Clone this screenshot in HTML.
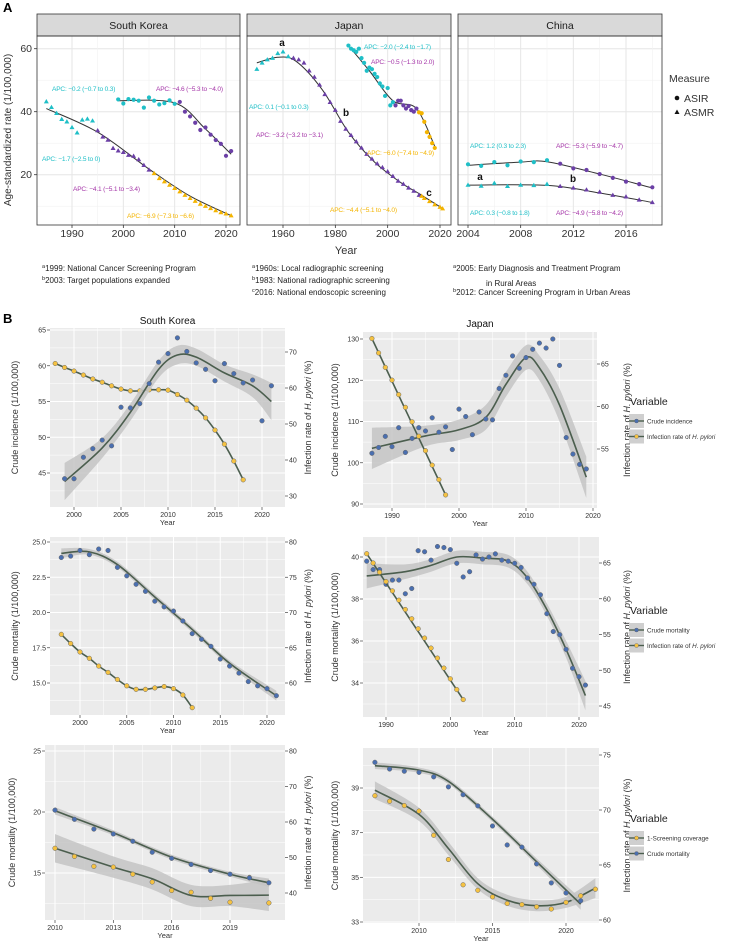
<!DOCTYPE html>
<html><head><meta charset="utf-8"><style>
html,body{margin:0;padding:0;background:#fff}
svg{display:block;font-family:"Liberation Sans",sans-serif}
</style></head><body>
<svg id="chart" width="732" height="944" viewBox="0 0 732 944" xmlns="http://www.w3.org/2000/svg"></svg>
<script>
// ===== Panel A data =====
const skAsmrYears=[1985,1986,1987,1988,1989,1990,1991,1992,1993,1994,1995,1996,1997,1998,1999,2000,2001,2002,2003,2004,2005,2006,2007,2008,2009,2010,2011,2012,2013,2014,2015,2016,2017,2018,2019,2020,2021];
const skAsmrVals=[43.2,41.4,39.5,37.6,36.8,35,33.3,37.4,37.7,37.1,34,32,31,28.4,27.6,27.1,26.2,25.9,24.8,23,21.5,20.4,18.8,17.8,16.7,15.7,14.6,13.5,12.5,11.6,10.7,10,9.3,8.6,8,7.6,7];
const skAsmrBreaks=[1994,2005];
const skAsmrFitX=[1985,1995,2005,2013,2021];
const skAsmrFitY=[41,33.5,21.8,13.2,7];
const skAsirYears=[1999,2000,2001,2002,2003,2004,2005,2006,2007,2008,2009,2010,2011,2012,2013,2014,2015,2016,2017,2018,2019,2020,2021];
const skAsirVals=[43.9,42.6,44,43.8,43.5,41.3,44.5,43.5,42.3,42.7,43.6,42.5,43.1,40,38.5,36.5,34.2,35,32.7,31,29.8,26,27.5];
const skAsirBreaks=[2010,2100];
const skAsirFitX=[1999,2010,2016,2021];
const skAsirFitY=[43.5,42.8,34.5,26.5];
const jpAsmrYears=[1950,1952,1954,1956,1958,1960,1962,1964,1966,1968,1970,1972,1974,1976,1978,1980,1982,1984,1986,1988,1990,1992,1994,1996,1998,2000,2002,2004,2006,2008,2010,2012,2013,2014,2016,2018,2020,2021];
const jpAsmrVals=[53.5,55.5,56.5,57,58.5,59,57.5,57,56.5,55.5,53,51,48.5,45.5,43,40.5,37,34.5,32.5,30.5,28.5,26.5,25,23.5,22.3,21,19.5,18,17,15.8,14.8,13.5,13.2,12.5,11.5,10.5,9.7,9.2];
const jpAsmrBreaks=[1963,2012];
const jpAsmrFitX=[1950,1958,1965,1975,1985,1995,2005,2012,2021];
const jpAsmrFitY=[55.5,57.3,56,47,33.5,24,17.5,14,9.3];
const jpAsirYears=[1985,1986,1987,1988,1989,1990,1991,1992,1993,1994,1995,1996,1997,1998,1999,2000,2001,2002,2003,2004,2005,2006,2007,2008,2009,2010,2011,2012,2013,2014,2015,2016,2017,2018];
const jpAsirVals=[61,60,59.5,59,60,57,55.5,53,54,53.5,52,51,49,48,45,47.5,42,43,42,43.5,43.5,42,41,41.8,40.5,40,41,39.8,39.5,36.8,33.5,32,30,28.5];
const jpAsirBreaks=[2002,2011];
const jpAsirFitX=[1985,1993,2002,2011,2018];
const jpAsirFitY=[61,53,43.5,41,29];
const cnAsirYears=[2004,2005,2006,2007,2008,2009,2010,2011,2012,2013,2014,2015,2016,2017,2018];
const cnAsirVals=[23.3,22.8,24,23,24.2,24,24.6,23.5,22,21.5,20.2,19,17.8,17,16];
const cnAsirBreaks=[2010,2100];
const cnAsirFitX=[2004,2008,2010,2014,2018];
const cnAsirFitY=[23,24,24.1,20.2,15.8];
const cnAsmrYears=[2004,2005,2006,2007,2008,2009,2010,2011,2012,2013,2014,2015,2016,2017,2018];
const cnAsmrVals=[16.7,16.4,17.3,16.3,16.7,16.6,17,16.3,15.8,15.2,14.5,13.5,13,12,11.2];
const cnAsmrBreaks=[2010,2100];
const cnAsmrFitX=[2004,2010,2014,2018];
const cnAsmrFitY=[16.7,16.6,14.2,11.2];
const aYTicks=[20,40,60];
const skXTicks=[1990,2000,2010,2020];
const jpXTicks=[1960,1980,2000,2020];
const cnXTicks=[2004,2008,2012,2016];

// ===== Panel B data =====
const b1skYears=[1999,2000,2001,2002,2003,2004,2005,2006,2007,2008,2009,2010,2011,2012,2013,2014,2015,2016,2017,2018,2019,2020,2021];
const b1skInc=[44.2,44.2,47.2,48.4,49.6,48.8,54.2,54.1,54.7,57.5,60.5,61.7,63.9,62,60.4,59.5,57.9,60.3,58.9,57.6,58,52.3,57.2];
const b1skIncFitX=[1999,2003,2006,2009,2011,2013,2016,2019,2021];
const b1skIncFitY=[43.8,48.5,53.5,59.5,61.5,61.2,59,57.2,55];
const b1skIncBand=[2.6,1.4,1.2,1.2,1.3,1.2,1.2,1.6,2.6];
const b1skHpYears=[1998,1999,2000,2001,2002,2003,2004,2005,2006,2007,2008,2009,2010,2011,2012,2013,2014,2015,2016,2017,2018];
const b1skHp=[66.8,65.7,64.7,63.6,62.5,61.6,60.6,59.7,59.2,59.2,59.5,59.5,59.4,58.2,56.6,54.4,51.7,48.3,44.4,39.7,34.5];

const b1jpYears=[1987,1988,1989,1990,1991,1992,1993,1994,1995,1996,1997,1998,1999,2000,2001,2002,2003,2004,2005,2006,2007,2008,2009,2010,2011,2012,2013,2014,2015,2016,2017,2018,2019];
const b1jpInc=[102.3,103.7,106.4,103.9,108.5,102.5,105.9,108.5,107.7,110.9,107.4,108.7,103.2,113,111.2,106.8,112.3,110.6,110.4,118,121.2,125.9,122.9,125.5,127.5,129,127.8,130,123.6,106.1,102.1,99.6,98.5];
const b1jpIncFitX=[1987,1995,2000,2004,2007,2010,2012,2015,2019];
const b1jpIncFitY=[103.5,106.5,108,111,119,125.5,123,114,96.5];
const b1jpIncBand=[5,2.5,2.5,3,3,3,3,4,5];
const b1jpHpYears=[1987,1988,1989,1990,1991,1992,1993,1994,1995,1996,1997,1998];
const b1jpHp=[68,66.3,64.6,63.1,61.4,59.9,58.2,56.5,54.8,53.1,51.4,49.6];

const b2skYears=[1998,1999,2000,2001,2002,2003,2004,2005,2006,2007,2008,2009,2010,2011,2012,2013,2014,2015,2016,2017,2018,2019,2020,2021];
const b2skMort=[23.9,24,24.4,24.1,24.5,24.4,23.2,22.6,22,21.5,20.8,20.4,20.1,19.4,18.5,18.1,17.6,16.7,16.2,15.7,15.1,14.8,14.6,14.1];
const b2skMortFitX=[1998,2001,2004,2008,2012,2016,2021];
const b2skMortFitY=[24.2,24.3,23.4,21.1,18.8,16.4,14.1];
const b2skMortBand=[0.35,0.2,0.2,0.2,0.2,0.2,0.35];
const b2skHpYears=[1998,1999,2000,2001,2002,2003,2004,2005,2006,2007,2008,2009,2010,2011,2012];
const b2skHp=[66.9,65.6,64.4,63.5,62.4,61.5,60.5,59.6,59.1,59.1,59.3,59.5,59.2,58.3,56.5];

const b2jpYears=[1987,1988,1989,1990,1991,1992,1993,1994,1995,1996,1997,1998,1999,2000,2001,2002,2003,2004,2005,2006,2007,2008,2009,2010,2011,2012,2013,2014,2015,2016,2017,2018,2019,2020,2021];
const b2jpMort=[39.8,39.4,39.4,38.7,38.9,38.9,38.25,38.5,40.3,40.25,39.85,40.5,40.45,40.35,39.7,39.05,39.3,40.1,39.9,40,40.15,39.85,39.8,39.7,39.5,39,38.7,38.2,37.3,36.45,36.3,35.6,34.7,34.3,33.9];
const b2jpMortFitX=[1987,1993,1997,2001,2005,2009,2012,2015,2018,2021];
const b2jpMortFitY=[39.1,39.3,39.6,40,39.95,39.8,39,37.5,35.6,33.4];
const b2jpMortBand=[0.6,0.35,0.3,0.3,0.3,0.3,0.3,0.3,0.4,0.7];
const b2jpHpYears=[1987,1988,1989,1990,1991,1992,1993,1994,1995,1996,1997,1998,1999,2000,2001,2002];
const b2jpHp=[66.3,65,63.7,62.4,61.1,59.8,58.5,57.2,55.8,54.5,53.1,51.7,50.3,48.8,47.3,45.9];

const b3skYears=[2010,2011,2012,2013,2014,2015,2016,2017,2018,2019,2020,2021];
const b3skMort=[20.15,19.4,18.6,18.2,17.6,16.7,16.2,15.7,15.2,14.9,14.6,14.2];
const b3skMortFitX=[2010,2013,2016,2019,2021];
const b3skMortFitY=[20.1,18.3,16.3,14.9,14.2];
const b3skMortBand=[0.3,0.2,0.2,0.2,0.35];
const b3skHp=[52.6,50.3,47.5,47.3,45.3,43.1,40.7,40.2,38.5,37.4,44.4,37.2];
const b3skHpFitX=[2010,2013,2015,2017,2019,2021];
const b3skHpFitY=[52.6,47.3,44,39.3,39.3,39.4];
const b3skHpBand=[4,3,3,3,3,4.5];

const b3jpYears=[2007,2008,2009,2010,2011,2012,2013,2014,2015,2016,2017,2018,2019,2020,2021];
const b3jpMort=[40.15,39.85,39.75,39.7,39.5,39.05,38.7,38.2,37.3,36.45,36.35,35.6,34.75,34.3,33.95];
const b3jpMortFitX=[2007,2010,2012,2015,2018,2021];
const b3jpMortFitY=[40,39.8,39.3,37.6,35.7,33.8];
const b3jpMortBand=[0.15,0.12,0.12,0.12,0.15,0.25];
const b3jpCovYears=[2007,2008,2009,2010,2011,2012,2013,2014,2015,2016,2017,2018,2019,2020,2021,2022];
const b3jpCov=[71.3,70.8,70.4,69.9,67.7,65.5,63.2,62.7,62.1,61.5,61.4,61.2,61,61.6,62.2,62.8];
const b3jpCovFitX=[2007,2010,2012,2014,2016,2018,2020,2022];
const b3jpCovFitY=[71.8,69.6,66.5,63.3,61.8,61.3,61.6,62.9];
const b3jpCovBand=[0.8,0.6,0.6,0.5,0.5,0.5,0.5,0.9];

// ===== helpers =====
const NS="http://www.w3.org/2000/svg";
const svg=document.getElementById('chart');
function mk(tag,attrs,parent){const e=document.createElementNS(NS,tag);for(const k in attrs)e.setAttribute(k,attrs[k]);(parent||svg).appendChild(e);return e;}
function lin(v1,p1,v2,p2){return v=>p1+(v-v1)*(p2-p1)/(v2-v1);}
function smoothPath(pts){if(pts.length<2)return'';let d='M'+pts[0][0]+','+pts[0][1];for(let i=0;i<pts.length-1;i++){const p0=pts[i-1]||pts[i],p1=pts[i],p2=pts[i+1],p3=pts[i+2]||p2;const c1=[p1[0]+(p2[0]-p0[0])/6,p1[1]+(p2[1]-p0[1])/6],c2=[p2[0]-(p3[0]-p1[0])/6,p2[1]-(p3[1]-p1[1])/6];d+=' C'+c1[0]+','+c1[1]+' '+c2[0]+','+c2[1]+' '+p2[0]+','+p2[1];}return d;}
function txt(x,y,s,size,attrs,parent){const t=mk('text',Object.assign({x:x,y:y,'font-size':size,fill:'#333'},attrs||{}),parent);t.textContent=s;return t;}

const CY='#1fbfc7',PU='#6b3fa6',YE='#f4b400',PUL='#a536a8';
const segCol=(yr,br)=>yr<=br[0]?CY:(yr<=br[1]?PU:YE);

// ===== Panel A =====
txt(3,12,'A',13,{'font-weight':'bold',fill:'#000'});
function aPanel(name,x0,x1,xs,xt,label){
  const g=mk('g',{});
  
  
  const ys=lin(60,48.7,20,174.7);
  const bg=mk('rect',{x:x0,y:36,width:x1-x0,height:189,fill:'#fff'},g);
  
  
  [10,30,50].forEach(v=>mk('line',{x1:x0,x2:x1,y1:ys(v),y2:ys(v),stroke:'#f2f2f2','stroke-width':0.6},g));
  aYTicks.forEach(v=>mk('line',{x1:x0,x2:x1,y1:ys(v),y2:ys(v),stroke:'#e6e6e6','stroke-width':1},g));
  for(let i=0;i<xt.length;i++){const m=i<xt.length-1?(xt[i]+xt[i+1])/2:xt[i]+(xt[1]-xt[0])/2;if(xs(m)<x1)mk('line',{x1:xs(m),x2:xs(m),y1:36,y2:225,stroke:'#f2f2f2','stroke-width':0.6},g);}
  xt.forEach(v=>{mk('line',{x1:xs(v),x2:xs(v),y1:36,y2:225,stroke:'#e6e6e6','stroke-width':1},g);mk('line',{x1:xs(v),x2:xs(v),y1:225,y2:228,stroke:'#333','stroke-width':0.8},g);
    const t=txt(xs(v),237,String(v),10.5,{'text-anchor':'middle'},g);});
  const st=mk('rect',{x:x0,y:14,width:x1-x0,height:22,fill:'#d9d9d9',stroke:'#333','stroke-width':0.8},g);
  
  
  const sl=txt((x0+x1)/2,29,label,10.5,{'text-anchor':'middle',fill:'#1a1a1a'},g);
  
  
  const br=mk('rect',{x:x0,y:36,width:x1-x0,height:189,fill:'none',stroke:'#333','stroke-width':0.8},g);
  
  
  return {g,xs,ys};
}
function aSeries(P,years,vals,breaks,fx,fy,shape,nm){
  const pts=fx.map((x,i)=>[P.xs(x),P.ys(fy[i])]);
  const fl=mk('path',{d:smoothPath(pts),fill:'none',stroke:'#333','stroke-width':1},P.g);
  
  
  years.forEach((yr,i)=>{const x=P.xs(yr),y=P.ys(vals[i]),c=segCol(yr,breaks);let m;
    if(shape==='c'){m=mk('circle',{cx:x,cy:y,r:2.1,fill:c},P.g);}
    else{m=mk('path',{d:'M'+x+','+(y-2.6)+' L'+(x+2.5)+','+(y+1.7)+' L'+(x-2.5)+','+(y+1.7)+'Z',fill:c},P.g);}
    
    });
}
const pSK=aPanel('south-korea',37,240,lin(1990,72,2020,226),skXTicks,'South Korea');
const pJP=aPanel('japan',247,451,lin(1960,283,2020,440),jpXTicks,'Japan');
const pCN=aPanel('china',458,662,lin(2004,468,2016,626),cnXTicks,'China');
aYTicks.forEach(v=>{const y=pSK.ys(v);mk('line',{x1:34,x2:37,y1:y,y2:y,stroke:'#333','stroke-width':0.8});const t=txt(32,y+3.5,String(v),10.5,{'text-anchor':'end'});});
aSeries(pSK,skAsmrYears,skAsmrVals,skAsmrBreaks,skAsmrFitX,skAsmrFitY,'t','sk-asmr');
aSeries(pSK,skAsirYears,skAsirVals,skAsirBreaks,skAsirFitX,skAsirFitY,'c','sk-asir');
aSeries(pJP,jpAsmrYears,jpAsmrVals,jpAsmrBreaks,jpAsmrFitX,jpAsmrFitY,'t','jp-asmr');
aSeries(pJP,jpAsirYears,jpAsirVals,jpAsirBreaks,jpAsirFitX,jpAsirFitY,'c','jp-asir');
aSeries(pCN,cnAsirYears,cnAsirVals,cnAsirBreaks,cnAsirFitX,cnAsirFitY,'c','cn-asir');
aSeries(pCN,cnAsmrYears,cnAsmrVals,cnAsmrBreaks,cnAsmrFitX,cnAsmrFitY,'t','cn-asmr');
const apc=[[52,91,'APC: −0.2 (−0.7 to 0.3)',CY],[156,91,'APC: −4.6 (−5.3 to −4.0)',PUL],[42,161,'APC: −1.7 (−2.5 to 0)',CY],[73,191,'APC: −4.1 (−5.1 to −3.4)',PUL],[127,218,'APC: −6.9 (−7.3 to −6.6)',YE],
[364,49,'APC: −2.0 (−2.4 to −1.7)',CY],[371,64,'APC: −0.5 (−1.3 to 2.0)',PUL],[249,109,'APC: 0.1 (−0.1 to 0.3)',CY],[256,137,'APC: −3.2 (−3.2 to −3.1)',PUL],[367,155,'APC: −6.0 (−7.4 to −4.9)',YE],[330,212,'APC: −4.4 (−5.1 to −4.0)',YE],
[470,148,'APC: 1.2 (0.3 to 2.3)',CY],[556,148,'APC: −5.3 (−5.9 to −4.7)',PUL],[470,215,'APC: 0.3 (−0.8 to 1.8)',CY],[556,215,'APC: −4.9 (−5.8 to −4.2)',PUL]];
apc.forEach(a=>{const t=txt(a[0],a[1],a[2],6.6,{fill:a[3],'letter-spacing':'-0.2'});});
[[282,46,'a'],[346,116,'b'],[429,196,'c'],[480,180,'a'],[573,182,'b']].forEach(a=>{const t=txt(a[0],a[1],a[2],10,{'font-weight':'bold',fill:'#111','text-anchor':'middle'});});
let t0=txt(346,254,'Year',11,{'text-anchor':'middle'});
t0=txt(11,130,'Age-standardized rate (1/100,000)',10,{'text-anchor':'middle',transform:'rotate(-90 11 130)'});
// legend A
t0=txt(669,82,'Measure',10.5,{});
let lm=mk('circle',{cx:677,cy:98,r:2.3,fill:'#111'});
t0=txt(684,102,'ASIR',10.5,{});
lm=mk('path',{d:'M677,109.5 L679.5,114 L674.5,114Z',fill:'#111'});
t0=txt(684,116,'ASMR',10.5,{});
// footnotes
const notes=[[42,271,'a','1999: National Cancer Screening Program'],[42,283,'b','2003: Target populations expanded'],[252,271,'a','1960s: Local radiographic screening'],[252,283,'b','1983: National radiographic screening'],[252,295,'c','2016: National endoscopic screening'],[453,271,'a','2005:  Early Diagnosis and Treatment Program'],[486,283,'','in Rural Areas'],[453,295,'b','2012: Cancer Screening Program in Urban Areas']];
notes.forEach(n=>{const t=mk('text',{x:n[0],y:n[1],'font-size':8,fill:'#222'});const s=document.createElementNS(NS,'tspan');s.setAttribute('font-size',5.5);s.setAttribute('dy',-3);s.textContent=n[2];t.appendChild(s);const s2=document.createElementNS(NS,'tspan');s2.setAttribute('dy',3);s2.textContent=n[3];t.appendChild(s2);});

// ===== Panel B =====
txt(3,323,'B',13,{'font-weight':'bold',fill:'#000'});
const BL='#4a6fb0',YL='#f5c242';
function bPanel(c){
  const g=mk('g',{});
  
  
  const xs=lin(...c.xa),ys=lin(...c.ya),rs=lin(...c.ra);
  const bg=mk('rect',{x:c.x0,y:c.y0,width:c.x1-c.x0,height:c.y1-c.y0,fill:'#ebebeb'},g);
  
  
  const yt=c.yt,xt=c.xt;
  for(let i=0;i<yt.length-1;i++){const m=ys((yt[i]+yt[i+1])/2);mk('line',{x1:c.x0,x2:c.x1,y1:m,y2:m,stroke:'#fff','stroke-width':0.5},g);}
  [ys(yt[0]-(yt[1]-yt[0])/2),ys(yt[yt.length-1]+(yt[1]-yt[0])/2)].forEach(m=>{if(m>c.y0&&m<c.y1)mk('line',{x1:c.x0,x2:c.x1,y1:m,y2:m,stroke:'#fff','stroke-width':0.5},g);});
  for(let i=0;i<xt.length-1;i++){const m=xs((xt[i]+xt[i+1])/2);mk('line',{x1:m,x2:m,y1:c.y0,y2:c.y1,stroke:'#fff','stroke-width':0.5},g);}
  yt.forEach(v=>{const y=ys(v);mk('line',{x1:c.x0,x2:c.x1,y1:y,y2:y,stroke:'#fff','stroke-width':1},g);mk('line',{x1:c.x0-3,x2:c.x0,y1:y,y2:y,stroke:'#444','stroke-width':0.7},g);
    const t=txt(c.x0-4,y+2.5,c.yf?v.toFixed(1):String(v),7,{'text-anchor':'end'},g);});
  xt.forEach(v=>{const x=xs(v);mk('line',{x1:x,x2:x,y1:c.y0,y2:c.y1,stroke:'#fff','stroke-width':1},g);mk('line',{x1:x,x2:x,y1:c.y1,y2:c.y1+3,stroke:'#444','stroke-width':0.7},g);
    const t=txt(x,c.y1+10,String(v),7,{'text-anchor':'middle'},g);});
  c.rt.forEach(v=>{const y=rs(v);mk('line',{x1:c.x1,x2:c.x1+3,y1:y,y2:y,stroke:'#444','stroke-width':0.7},g);
    const t=txt(c.x1+4,y+2.5,String(v),7,{},g);});
  let t=txt((c.x0+c.x1)/2,c.y1+18,'Year',7.5,{'text-anchor':'middle'},g);
  const ly=(c.y0+c.y1)/2;
  t=txt(c.lx,ly,c.ltitle,9,{'text-anchor':'middle',transform:'rotate(-90 '+c.lx+' '+ly+')'},g);
  t=mk('text',{x:c.rx,y:ly,'font-size':9,fill:'#333','text-anchor':'middle',transform:'rotate(-90 '+c.rx+' '+ly+')'},g);
  t.appendChild(document.createTextNode(c.rtitle+' '));const it=document.createElementNS(NS,'tspan');it.setAttribute('font-style','italic');it.textContent='H. pylori';t.appendChild(it);t.appendChild(document.createTextNode(' (%)'));
  
  if(c.title){t=txt((c.x0+c.x1)/2,c.ty,c.title,10,{'text-anchor':'middle',fill:'#111'},g);}
  return {g,xs,ys,rs};
}
function bSeries(P,scale,years,vals,fx,fy,band,col,nm){
  const s=scale==='r'?P.rs:P.ys;
  if(band){const up=fx.map((x,i)=>[P.xs(x),s(fy[i]+band[i])]),lo=fx.map((x,i)=>[P.xs(x),s(fy[i]-band[i])]).reverse();
    const b=mk('path',{d:smoothPath(up)+' L'+lo[0][0]+','+lo[0][1]+smoothPath(lo).slice(smoothPath(lo).indexOf(' ')) +'Z',fill:'#c4c4c4','fill-opacity':0.85},P.g);
    
    }
  const l=mk('path',{d:smoothPath(fx.map((x,i)=>[P.xs(x),s(fy[i])])),fill:'none',stroke:'#4b5e4e','stroke-width':1.6},P.g);
  
  
  years.forEach((yr,i)=>{const m=mk('circle',{cx:P.xs(yr),cy:s(vals[i]),r:2.3,fill:col,stroke:'#666','stroke-width':0.5},P.g);
    
    });
}
function bLegend(y,items){
  let t=txt(630,y,'Variable',10.5,{fill:'#222'});
  items.forEach((it,i)=>{const yy=y+16+i*15.5;const k=mk('rect',{x:629,y:yy-7,width:15,height:14,fill:'#cfcfcf'});
    mk('line',{x1:629,x2:644,y1:yy,y2:yy,stroke:'#4b5e4e','stroke-width':1.4});mk('circle',{cx:636.5,cy:yy,r:2,fill:it[1],stroke:'#666','stroke-width':0.4});
    const e=mk('text',{x:647,y:yy+2.5,'font-size':6.3,fill:'#333'});e.textContent=it[0];
    if(it[2]){const s=document.createElementNS(NS,'tspan');s.setAttribute('font-style','italic');s.textContent=' H. pylori';e.appendChild(s);}
    });
}
const skH='Infection rate of';
const r1sk=bPanel({name:'panel-b-sk-incidence',x0:50,x1:285,y0:328,y1:507,xa:[2000,74,2020,262],ya:[65,330,45,473],ra:[70,352,30,496],xt:[2000,2005,2010,2015,2020],yt:[45,50,55,60,65],rt:[30,40,50,60,70],title:'South Korea',ty:324,lx:18,rx:311,ltitle:'Crude incidence (1/100,000)',rtitle:skH});
bSeries(r1sk,'r',b1skHpYears,b1skHp,b1skHpYears,b1skHp,null,YL,'sk-hpylori');
bSeries(r1sk,'l',b1skYears,b1skInc,b1skIncFitX,b1skIncFitY,b1skIncBand,BL,'sk-incidence');
const r1jp=bPanel({name:'panel-b-jp-incidence',x0:363,x1:597,y0:332,y1:508,xa:[1990,392,2020,593],ya:[130,339,90,504],ra:[65,364,55,449],xt:[1990,2000,2010,2020],yt:[90,100,110,120,130],rt:[55,60,65],title:'Japan',ty:327,lx:338,rx:630,ltitle:'Crude incidence (1/100,000)',rtitle:skH});
bSeries(r1jp,'l',b1jpYears,b1jpInc,b1jpIncFitX,b1jpIncFitY,b1jpIncBand,BL,'jp-incidence');
bSeries(r1jp,'r',b1jpHpYears,b1jpHp,[1987,1998],[68,49.6],null,YL,'jp-hpylori');
bLegend(405,[['Crude incidence',BL],['Infection rate of',YL,true]]);

const r2sk=bPanel({name:'panel-b-sk-mortality',x0:50,x1:285,y0:537,y1:715,xa:[2000,80,2020,267],ya:[25,542,15,683],ra:[80,542,60,683],xt:[2000,2005,2010,2015,2020],yt:[15,17.5,20,22.5,25],yf:1,rt:[60,65,70,75,80],lx:18,rx:311,ltitle:'Crude mortality (1/100,000)',rtitle:skH});
bSeries(r2sk,'l',b2skYears,b2skMort,b2skMortFitX,b2skMortFitY,b2skMortBand,BL,'sk-mortality');
bSeries(r2sk,'r',b2skHpYears,b2skHp,b2skHpYears,b2skHp,null,YL,'sk-hpylori');
const r2jp=bPanel({name:'panel-b-jp-mortality',x0:363,x1:599,y0:537,y1:717,xa:[1990,386,2020,579],ya:[40,557,34,683],ra:[65,563,45,706],xt:[1990,2000,2010,2020],yt:[34,36,38,40],rt:[45,50,55,60,65],lx:338,rx:630,ltitle:'Crude mortality (1/100,000)',rtitle:skH});
bSeries(r2jp,'l',b2jpYears,b2jpMort,b2jpMortFitX,b2jpMortFitY,b2jpMortBand,BL,'jp-mortality');
bSeries(r2jp,'r',b2jpHpYears,b2jpHp,[1987,2002],[66.3,45.9],null,YL,'jp-hpylori');
bLegend(614,[['Crude mortality',BL],['Infection rate of',YL,true]]);

const r3sk=bPanel({name:'panel-b-sk-mortality-2',x0:45,x1:285,y0:745,y1:920,xa:[2010,55,2019,230],ya:[25,751,15,873],ra:[80,751,40,893],xt:[2010,2013,2016,2019],yt:[15,20,25],rt:[40,50,60,70,80],lx:15,rx:311,ltitle:'Crude mortality (1/100,000)',rtitle:skH});
bSeries(r3sk,'r',b3skYears,b3skHp,b3skHpFitX,b3skHpFitY,b3skHpBand,YL,'sk-hpylori');
bSeries(r3sk,'l',b3skYears,b3skMort,b3skMortFitX,b3skMortFitY,b3skMortBand,BL,'sk-mortality');
const r3jp=bPanel({name:'panel-b-jp-coverage',x0:363,x1:599,y0:748,y1:923,xa:[2010,419,2020,566],ya:[39,788,33,922],ra:[75,755,60,920],xt:[2010,2015,2020],yt:[33,35,37,39],rt:[60,65,70,75],lx:338,rx:630,ltitle:'Crude mortality (1/100,000)',rtitle:skH});
bSeries(r3jp,'r',b3jpCovYears,b3jpCov,b3jpCovFitX,b3jpCovFitY,b3jpCovBand,YL,'jp-screening');
bSeries(r3jp,'l',b3jpYears,b3jpMort,b3jpMortFitX,b3jpMortFitY,b3jpMortBand,BL,'jp-mortality');
bLegend(822,[['1-Screening coverage',YL],['Crude mortality',BL]]);
</script>
</body></html>
